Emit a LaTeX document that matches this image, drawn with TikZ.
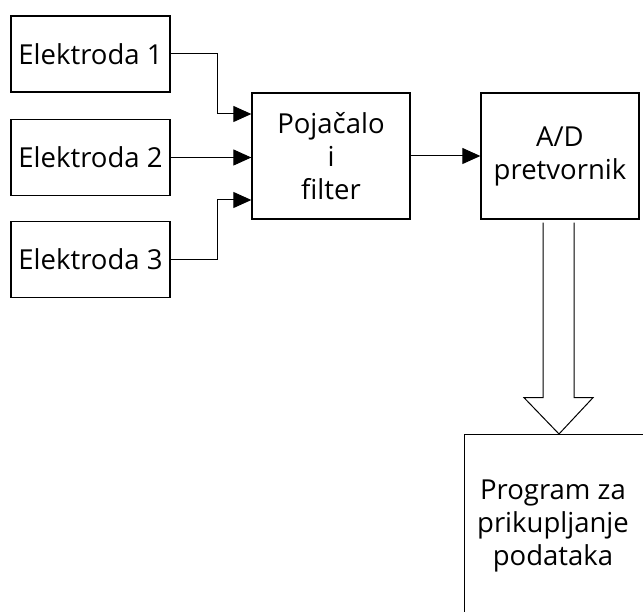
\documentclass[tikz,border=0pt]{standalone}
\usepackage{fontspec}
\setmainfont{Open Sans}
\usetikzlibrary{arrows.meta,calc}
\begin{document}
\begin{tikzpicture}[x=1pt,y=-1pt,
  blk/.style={draw,line width=1.3pt,inner sep=0pt,align=center,
    font=\fontsize{27.5}{33}\selectfont},
  conn/.style={line width=1pt,-{Triangle[length=18pt,width=16pt]}},
  lbl/.style={inner sep=0pt,align=center,font=\fontsize{27.5}{33}\selectfont}]
\useasboundingbox (0,0) rectangle (643,612);
\clip (0,0) rectangle (643,612);
\node[blk,minimum width=159pt,minimum height=76pt] (e1) at (90.5,54) {Elektroda 1};
\node[blk,minimum width=159pt,minimum height=76pt] (e2) at (90.5,157.5) {Elektroda 2};
\node[blk,minimum width=159pt,minimum height=76pt] (e3) at (90.5,259.5) {Elektroda 3};
\node[blk,minimum width=158pt,minimum height=126pt] (p) at (331,156) {Pojačalo\\i\\filter};
\node[blk,minimum width=158pt,minimum height=126pt] (ad) at (560,156) {A/D\\pretvornik};
\node[blk,minimum width=190pt,minimum height=190pt,anchor=north west] (prog) at (464,434) {};
\node[lbl] (progt) at (553,526) {Program za\\prikupljanje\\podataka};
\coordinate (j1) at (217,54);
\coordinate (j3) at (217,260);
\draw[conn] (e1.east) -- (j1) |- ($(p.west)+(0,-42)$);
\draw[conn] (e2.east) -- (e2.east -| p.west);
\draw[conn] (e3.east |- j3) -- (j3) |- ($(p.west)+(0,44)$);
\draw[conn] (p.east) -- (ad.west);
\draw[line width=1pt,line join=miter]
  ($(ad.south)+(-17,3)$) -- ($(ad.south)+(-17,178)$) -- ($(ad.south)+(-36,178)$)
  -- (prog.north -| 559,0) -- ($(ad.south)+(33,178)$) -- ($(ad.south)+(14,178)$)
  -- ($(ad.south)+(14,3)$);
\end{tikzpicture}
\end{document}
